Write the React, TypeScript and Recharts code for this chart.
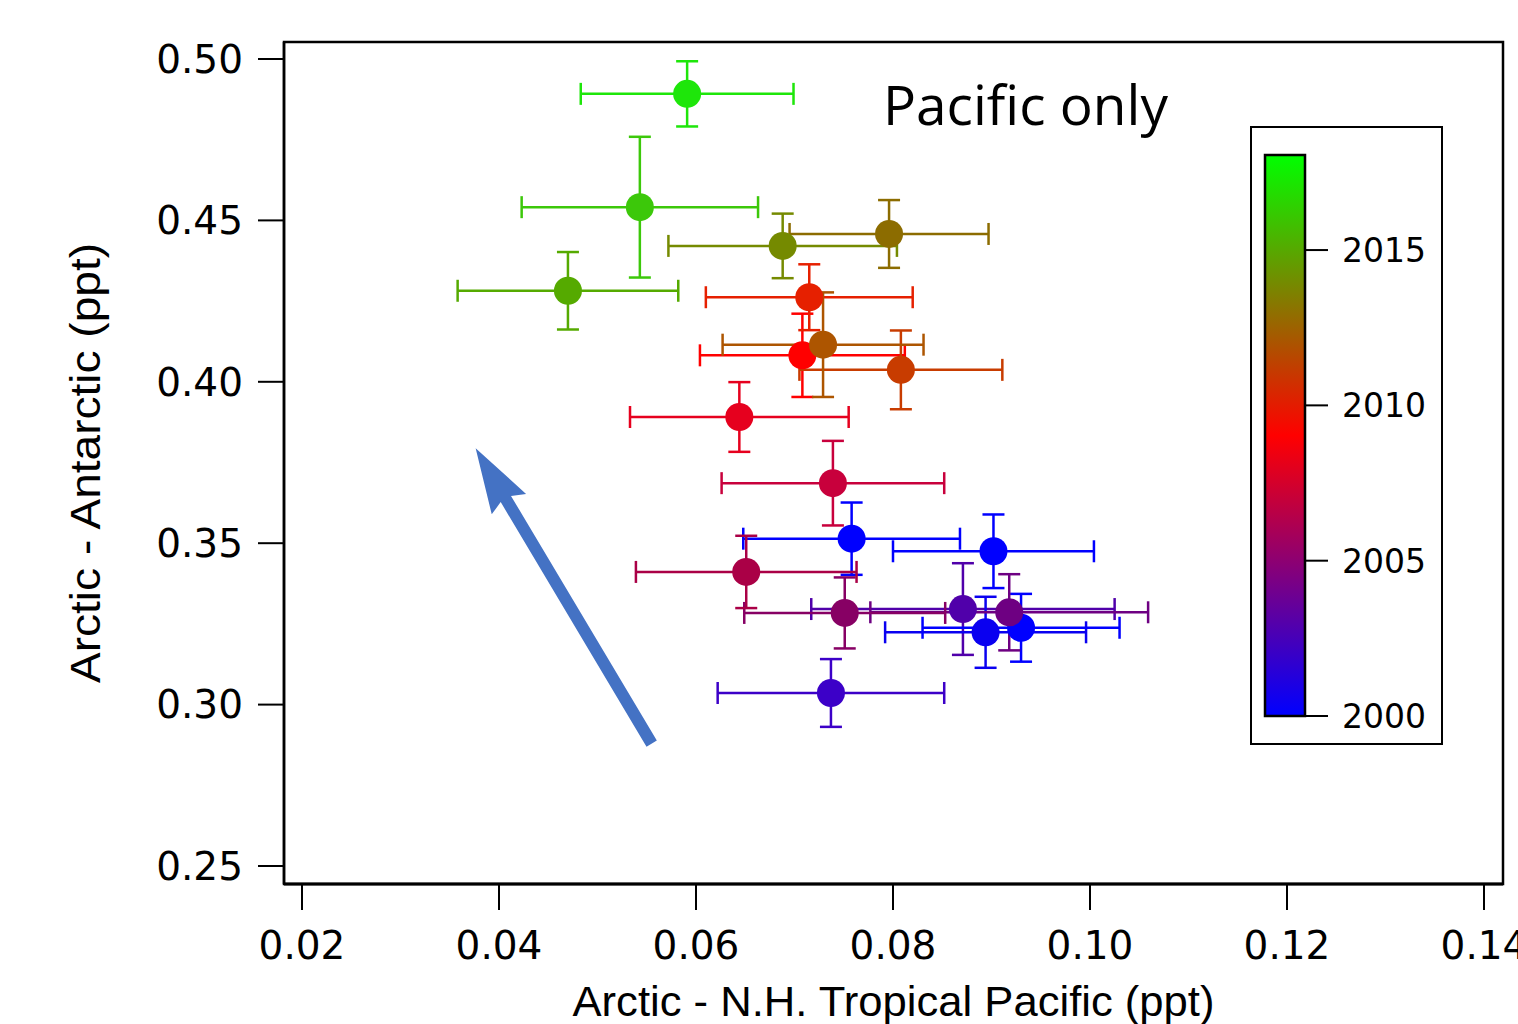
import React from 'react';
import {
  ScatterChart,
  Scatter,
  XAxis,
  YAxis,
  ErrorBar,
  ReferenceArea,
  ReferenceLine,
  Label,
} from 'recharts';

// ---- data ----
const arcticMinusTropPacific = [
  0.0591, 0.0543, 0.047, 0.0688, 0.0796, 0.0715, 0.0708, 0.0729, 0.0808, 0.0644,
  0.0739, 0.0758, 0.0902, 0.0651, 0.0751, 0.0871, 0.0918, 0.0894, 0.093, 0.0737,
];
const arcticMinusAntarctic = [
  0.4892, 0.4541, 0.4282, 0.4421, 0.4458, 0.4262, 0.4082, 0.4115, 0.4037, 0.3891,
  0.3686, 0.3514, 0.3475, 0.3411, 0.3284, 0.3296, 0.3286, 0.3224, 0.3238, 0.3036,
];
const xError = [
  0.0108, 0.012, 0.0112, 0.0116, 0.0101, 0.0105, 0.0104, 0.0102, 0.0103, 0.0111,
  0.0113, 0.011, 0.0102, 0.0112, 0.0102, 0.0154, 0.0141, 0.0102, 0.01, 0.0115,
];
const yError = [
  0.0101, 0.0218, 0.012, 0.01, 0.0105, 0.0102, 0.0129, 0.0162, 0.0122, 0.0108,
  0.0131, 0.0112, 0.0114, 0.0112, 0.011, 0.0142, 0.0118, 0.011, 0.0105, 0.0105,
];
const pointColors = [
  '#1ee60a', '#3cc80a', '#55aa00', '#758a00', '#8c6c00', '#e62000', '#ff0000', '#ad5500', '#c83c00', '#e6001e',
  '#c8003c', '#0000ff', '#0000ff', '#aa0046', '#870064', '#5000aa', '#6e0082', '#0a00f0', '#0000ff', '#3c00c8',
];
const drawOrder = [19, 15, 17, 12, 11, 18, 16, 14, 13, 10, 9, 6, 5, 8, 7, 4, 3, 2, 1, 0];

const xTicks = [0.02, 0.04, 0.06, 0.08, 0.1, 0.12, 0.14];
const yTicks = [0.25, 0.3, 0.35, 0.4, 0.45, 0.5];
const xDomain = [0.018173, 0.141929];
const yDomain = [0.244424, 0.505266];

const arrowSegment = [
  { x: 0.0555, y: 0.2879 },
  { x: 0.03763, y: 0.3794 },
];

const colorbarTicks = [2000, 2005, 2010, 2015];
const colorbarRange = [2000, 2018.06];
const colorbarStops = ['#0000ff', '#ff0000', '#00ff00'];

const points = arcticMinusTropPacific.map((x, i) => ({
  x,
  y: arcticMinusAntarctic[i],
  ex: xError[i],
  ey: yError[i],
}));

const ArrowShape = (p: any) => {
  const { x1, y1, x2, y2 } = p;
  const dx = x2 - x1;
  const dy = y2 - y1;
  const L = Math.hypot(dx, dy) || 1;
  const ux = dx / L;
  const uy = dy / L;
  const nx = -uy;
  const ny = ux;
  const headLen = 65;
  const headHalf = 20;
  const shaftHalf = 6;
  const bx = x2 - ux * headLen;
  const by = y2 - uy * headLen;
  const pts = [
    [x1 + nx * shaftHalf, y1 + ny * shaftHalf],
    [bx + ux * 6 + nx * shaftHalf, by + uy * 6 + ny * shaftHalf],
    [bx + nx * headHalf, by + ny * headHalf],
    [x2, y2],
    [bx - nx * headHalf, by - ny * headHalf],
    [bx + ux * 6 - nx * shaftHalf, by + uy * 6 - ny * shaftHalf],
    [x1 - nx * shaftHalf, y1 - ny * shaftHalf],
  ];
  return <polygon points={pts.map((q) => q.join(',')).join(' ')} fill="#4472c4" stroke="none" />;
};

const XTitle = (props: any) => {
  const vb = props.viewBox;
  return (
    <text
      x={vb.x + vb.width / 2}
      y={vb.y + 132}
      textAnchor="middle"
      fontFamily="Liberation Sans, Arial, sans-serif"
      fontSize={42}
      textLength={642}
      lengthAdjust="spacingAndGlyphs"
      fill="#000"
    >
      Arctic - N.H. Tropical Pacific (ppt)
    </text>
  );
};

const YTitle = (props: any) => {
  const vb = props.viewBox;
  const cx = vb.x + 100;
  const cy = vb.y + vb.height / 2;
  return (
    <text
      x={cx}
      y={cy}
      transform={`rotate(-90, ${cx}, ${cy})`}
      textAnchor="middle"
      fontFamily="Liberation Sans, Arial, sans-serif"
      fontSize={42}
      textLength={440}
      lengthAdjust="spacingAndGlyphs"
      fill="#000"
    >
      Arctic - Antarctic (ppt)
    </text>
  );
};

const ColorBar = () => {
  const barX = 1265;
  const barW = 40;
  const barTop = 155;
  const barBottom = 716;
  const yOf = (yr: number) =>
    barBottom - ((yr - colorbarRange[0]) / (colorbarRange[1] - colorbarRange[0])) * (barBottom - barTop);
  return (
    <svg
      width={1518}
      height={1024}
      style={{ position: 'absolute', left: 0, top: 0, pointerEvents: 'none' }}
    >
      <defs>
        <linearGradient id="cbar" x1="0" y1="1" x2="0" y2="0">
          <stop offset="0" stopColor={colorbarStops[0]} />
          <stop offset="0.5" stopColor={colorbarStops[1]} />
          <stop offset="1" stopColor={colorbarStops[2]} />
        </linearGradient>
      </defs>
      <rect x={1251} y={127} width={191} height={617} fill="#fff" stroke="#000" strokeWidth={2} />
      <rect
        x={barX}
        y={barTop}
        width={barW}
        height={barBottom - barTop}
        fill="url(#cbar)"
        stroke="#000"
        strokeWidth={2.5}
      />
      {colorbarTicks.map((yr) => (
        <g key={yr}>
          <line x1={barX + barW} x2={barX + barW + 23} y1={yOf(yr)} y2={yOf(yr)} stroke="#000" strokeWidth={2} />
          <text
            x={1342}
            y={yOf(yr)}
            dy="0.36em"
            fontFamily="DejaVu Sans, sans-serif"
            fontSize={33}
            fill="#000"
          >
            {yr}
          </text>
        </g>
      ))}
      <text
        x={883}
        y={125}
        fontFamily="Open Sans, sans-serif"
        fontSize={54}
        textLength={285}
        lengthAdjust="spacingAndGlyphs"
        fill="#000"
      >
        Pacific only
      </text>
    </svg>
  );
};

export default function App() {
  const tickStyle = { fontFamily: 'DejaVu Sans, sans-serif', fontSize: 39, fill: '#000' };
  return (
    <div style={{ position: 'absolute', left: 0, top: 0, width: 1518, height: 1024, background: '#fff' }}>
      <ScatterChart width={1518} height={1024} margin={{ top: 42, right: 15, bottom: 0, left: 0 }}>
        <XAxis
          type="number"
          dataKey="x"
          domain={xDomain}
          allowDataOverflow
          ticks={xTicks}
          interval={0}
          tickFormatter={(v: number) => v.toFixed(2)}
          tick={tickStyle}
          tickSize={26}
          tickMargin={21}
          height={140}
          axisLine={{ stroke: '#000', strokeWidth: 3 }}
          tickLine={{ stroke: '#000', strokeWidth: 2 }}
        >
          <Label content={<XTitle />} />
        </XAxis>
        <YAxis
          type="number"
          dataKey="y"
          domain={yDomain}
          allowDataOverflow
          ticks={yTicks}
          interval={0}
          tickFormatter={(v: number) => v.toFixed(2)}
          tick={tickStyle}
          tickSize={26}
          tickMargin={15}
          width={284}
          axisLine={{ stroke: '#000', strokeWidth: 2.5 }}
          tickLine={{ stroke: '#000', strokeWidth: 2 }}
        >
          <Label content={<YTitle />} />
        </YAxis>
        <ReferenceArea
          x1={xDomain[0]}
          x2={xDomain[1]}
          y1={yDomain[0]}
          y2={yDomain[1]}
          fill="none"
          fillOpacity={0}
          stroke="#000"
          strokeWidth={2.5}
          ifOverflow="visible"
        />
        <ReferenceLine segment={arrowSegment} ifOverflow="visible" shape={ArrowShape} />
        {drawOrder.map((i) => {
          const c = pointColors[i];
          return (
            <Scatter
              key={i}
              data={[points[i]]}
              isAnimationActive={false}
              shape={(p: any) => <circle cx={p.cx} cy={p.cy} r={14} fill={c} />}
            >
              <ErrorBar dataKey="ex" direction="x" width={11} stroke={c} strokeWidth={2.5} isAnimationActive={false} />
              <ErrorBar dataKey="ey" direction="y" width={11} stroke={c} strokeWidth={2.5} isAnimationActive={false} />
            </Scatter>
          );
        })}
      </ScatterChart>
      <ColorBar />
    </div>
  );
}
